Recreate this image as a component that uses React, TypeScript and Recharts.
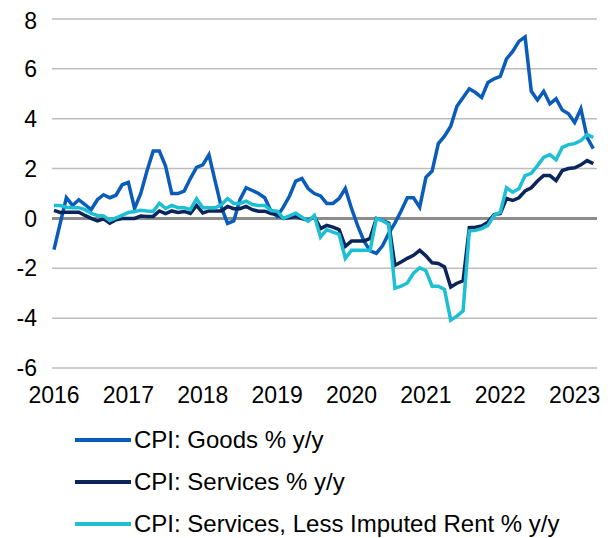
import { LineChart, Line, XAxis, YAxis, CartesianGrid, ReferenceLine } from 'recharts';

const years = [2016, 2017, 2018, 2019, 2020, 2021, 2022, 2023];

// monthly, Jan 2016 .. Apr 2023
const goods = [
  -1.25, -0.2, 0.83, 0.52, 0.75, 0.55, 0.35, 0.75, 0.95, 0.83, 0.93, 1.35,
  1.45, 0.4, 1.0, 1.9, 2.7, 2.7, 2.1, 1.0, 1.0, 1.1, 1.6, 2.05,
  2.15, 2.55, 1.5, 0.45, -0.2, -0.1, 0.75, 1.23, 1.12, 1.0, 0.83, 0.3,
  0.08, 0.45, 0.9, 1.5, 1.6, 1.2, 1.0, 0.9, 0.6, 0.6, 0.8, 1.2,
  0.4, -0.3, -0.9, -1.3, -1.4, -1.1, -0.6, -0.19, 0.3, 0.83, 0.83, 0.45,
  1.65, 1.9, 3.0, 3.3, 3.7, 4.5, 4.85, 5.2, 5.05, 4.85, 5.45, 5.6,
  5.7, 6.4, 6.7, 7.1, 7.28, 5.1, 4.75, 5.1, 4.6, 4.8, 4.35, 4.2,
  3.85, 4.4, 3.25, 2.8,
];

const services = [
  0.32, 0.24, 0.25, 0.25, 0.25, 0.12, 0.0, -0.1, -0.02, -0.19, -0.05, 0.0,
  0.0, 0.0, 0.1, 0.08, 0.08, 0.3, 0.19, 0.3, 0.24, 0.28, 0.2, 0.52,
  0.22, 0.3, 0.3, 0.3, 0.48, 0.39, 0.39, 0.48, 0.35, 0.29, 0.29, 0.2,
  0.16, 0.0, 0.04, 0.08, -0.01, -0.08, 0.08, -0.41, -0.28, -0.35, -0.45, -1.12,
  -0.91, -0.91, -0.91, -0.8, 0.0, -0.08, -0.19, -1.88, -1.75, -1.6, -1.48, -1.28,
  -1.5, -1.78, -1.81, -1.95, -2.75, -2.6, -2.5, -0.37, -0.35, -0.3, -0.15, 0.15,
  0.2, 0.8, 0.72, 0.83, 1.1, 1.23, 1.5, 1.72, 1.72, 1.52, 1.92, 2.0,
  2.03, 2.15, 2.32, 2.2,
];

const servicesLessRent = [
  0.52, 0.52, 0.45, 0.43, 0.43, 0.35, 0.2, 0.12, 0.1, -0.08, 0.02, 0.12,
  0.24, 0.28, 0.33, 0.3, 0.28, 0.61, 0.4, 0.52, 0.43, 0.43, 0.35, 0.79,
  0.43, 0.43, 0.43, 0.55, 0.8, 0.6, 0.6, 0.69, 0.56, 0.52, 0.52, 0.32,
  0.29, 0.0, 0.1, 0.21, 0.05, -0.11, 0.12, -0.75, -0.45, -0.55, -0.64, -1.6,
  -1.28, -1.28, -1.28, -1.28, 0.0, -0.08, -0.24, -2.8, -2.72, -2.59, -2.2, -1.98,
  -2.1, -2.72, -2.72, -2.85, -4.08, -3.92, -3.71, -0.5, -0.48, -0.41, -0.28, 0.12,
  0.25, 1.23, 1.05, 1.19, 1.72, 1.81, 2.12, 2.45, 2.56, 2.35, 2.85, 2.96,
  3.0, 3.12, 3.36, 3.25,
];

const yTicks = [-6, -4, -2, 0, 2, 4, 6, 8];

const series = [
  { key: 'goods', name: 'CPI: Goods % y/y', color: '#0A5CBA' },
  { key: 'services', name: 'CPI: Services % y/y', color: '#0B2459' },
  { key: 'servicesLessRent', name: 'CPI: Services, Less Imputed Rent % y/y', color: '#1CBFD4' },
];

const data = goods.map((g, i) => ({
  i,
  goods: g,
  services: services[i],
  servicesLessRent: servicesLessRent[i],
}));

const xTicks = years.map((_, k) => k * 12);
const font = '"Liberation Sans", Arial, sans-serif';
const tickStyle = { fill: '#000', fontSize: 23, fontFamily: font };

export default function App() {
  return (
    <div style={{ width: 606, fontFamily: font }}>
      <LineChart width={606} height={410} data={data} margin={{ top: 11, right: 17, left: 4, bottom: 0 }}>
        <CartesianGrid vertical={false} stroke="#bdbdbd" strokeWidth={1.5} />
        <XAxis
          dataKey="i"
          type="number"
          domain={[-0.32, 87.6]}
          ticks={xTicks}
          tickFormatter={(v: number) => String(years[Math.round(v / 12)])}
          axisLine={false}
          tickLine={false}
          tickSize={0}
          tickMargin={19}
          height={50}
          tick={tickStyle}
        />
        <YAxis
          domain={[-6, 8]}
          ticks={yTicks}
          axisLine={false}
          tickLine={false}
          tickSize={0}
          tickMargin={15}
          width={40}
          tick={tickStyle}
        />
        <ReferenceLine y={0} stroke="#8c8c8c" strokeWidth={3} />
        {series.map((s) => (
          <Line
            key={s.key}
            dataKey={s.key}
            name={s.name}
            stroke={s.color}
            strokeWidth={3.5}
            dot={false}
            type="linear"
            isAnimationActive={false}
          />
        ))}
      </LineChart>
      <div style={{ paddingLeft: 67, paddingTop: 1 }}>
        {series.map((s) => (
          <div key={s.key} style={{ display: 'flex', alignItems: 'center', height: 42, fontSize: 24, color: '#000' }}>
            <span style={{ display: 'inline-block', width: 56, height: 4, background: s.color, marginRight: 3 }} />
            <span>{s.name}</span>
          </div>
        ))}
      </div>
    </div>
  );
}
